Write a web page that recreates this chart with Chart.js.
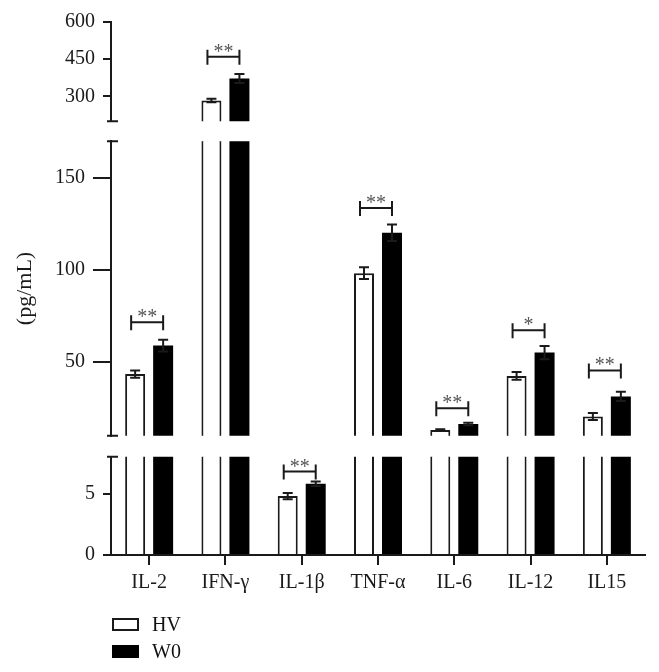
<!DOCTYPE html>
<html>
<head>
<meta charset="utf-8">
<script src="https://cdn.jsdelivr.net/npm/chart.js@4.4.1/dist/chart.umd.min.js"></script>
<style>
    body { margin: 0; background: #fff; }
    #wrap { position: relative; width: 659px; height: 672px; }
    #legend { position: absolute; left: 112px; top: 611px; font-family: 'Liberation Serif', serif; font-size: 20px; color: #111; }
    .item { display: flex; align-items: center; height: 27px; }
    .box { width: 23px; height: 9px; border: 2px solid #111; margin-right: 13px; }
</style>
</head>
<body>
<div id="wrap">
    <canvas id="chart" width="659" height="672"></canvas>
    <div id="legend"></div>
</div>
<script>
// categories and values
var categories = ['IL-2', 'IFN-γ', 'IL-1β', 'TNF-α', 'IL-6', 'IL-12', 'IL15'];
var hvMean = [43.5, 283, 4.8, 98.3, 13.1, 42.5, 20.5];
var hvErr = [2, 7, 0.25, 3.2, 0.5, 2.1, 1.9];
var w0Mean = [59, 372, 5.8, 120.3, 16.4, 55.2, 31.4];
var w0Err = [3.2, 18, 0.18, 4.5, 0.7, 3.6, 2.5];
var sigText = ['**', '**', '**', '**', '**', '*', '**'];
var sigLevel = [71.7, 460, 6.8, 133.7, 24.9, 67.3, 45.5];

// broken y axis: bottom, middle, top pieces
var segIds = ['yBot', 'yMid', 'yTop'];
var segMin = [0, 10, 200];
var segMax = [8, 170, 600];
var segTicks = [[0, 5], [50, 100, 150], [300, 450, 600]];

var FONT = "'Liberation Serif', 'Times New Roman', serif";
var INK = '#1a1a1a';

var datasets = [];
segIds.forEach(function (id) {
    datasets.push({
        label: 'HV', data: hvMean, yAxisID: id, stack: 'HV', clip: 0,
        backgroundColor: '#fff', borderColor: INK, borderWidth: 2
    });
    datasets.push({
        label: 'W0', data: w0Mean, yAxisID: id, stack: 'W0', clip: 0,
        backgroundColor: '#000', borderColor: '#000', borderWidth: 0
    });
});

function scaleFor(chart, v) {
    for (var s = 0; s < segIds.length; s++) {
        if (v >= segMin[s] && v <= segMax[s]) return chart.scales[segIds[s]];
    }
    return chart.scales[segIds[segIds.length - 1]];
}

function segScale(idx, weight, stackWeight, tickLen, title) {
    return {
        type: 'linear', axis: 'y', position: 'left', stack: 'y',
        weight: weight, stackWeight: stackWeight, stacked: false,
        min: segMin[idx], max: segMax[idx],
        afterBuildTicks: function (scale) {
            scale.ticks = segTicks[idx].map(function (v) { return { value: v }; });
        },
        afterFit: function (scale) { scale.width = 99; },
        grid: { display: true, drawOnChartArea: false, drawTicks: true, tickLength: tickLen, color: INK, lineWidth: 2 },
        border: { display: true, color: INK, width: 2 },
        ticks: { font: { family: FONT, size: 20 }, color: INK, padding: 8, autoSkip: false },
        title: title ? { display: true, text: title, font: { family: FONT, size: 22 }, color: INK, padding: 0 } : { display: false }
    };
}

function gapScale(weight, stackWeight) {
    return {
        type: 'linear', axis: 'y', position: 'left', stack: 'y',
        weight: weight, stackWeight: stackWeight, min: 0, max: 1,
        afterFit: function (scale) { scale.width = 99; },
        grid: { display: false }, border: { display: false }, ticks: { display: false }
    };
}

// error bars and significance brackets
var annotations = {
    id: 'annotations',
    afterDatasetsDraw: function (chart) {
        var ctx = chart.ctx;
        var hvMeta = chart.getDatasetMeta(0), w0Meta = chart.getDatasetMeta(1);
        ctx.save();
        ctx.strokeStyle = INK;
        ctx.lineWidth = 2;
        categories.forEach(function (c, i) {
            [[hvMeta, hvMean, hvErr], [w0Meta, w0Mean, w0Err]].forEach(function (g) {
                var x = g[0].data[i].x, m = g[1][i], e = g[2][i];
                var sc = scaleFor(chart, m);
                var y1 = sc.getPixelForValue(m + e), y2 = sc.getPixelForValue(m - e);
                ctx.beginPath();
                ctx.moveTo(x, y1); ctx.lineTo(x, y2);
                ctx.moveTo(x - 5, y1); ctx.lineTo(x + 5, y1);
                ctx.moveTo(x - 5, y2); ctx.lineTo(x + 5, y2);
                ctx.stroke();
            });
            var xa = hvMeta.data[i].x - 4, xb = w0Meta.data[i].x;
            var yb = scaleFor(chart, sigLevel[i]).getPixelForValue(sigLevel[i]);
            ctx.beginPath();
            ctx.moveTo(xa, yb); ctx.lineTo(xb, yb);
            ctx.moveTo(xa, yb - 7); ctx.lineTo(xa, yb + 8);
            ctx.moveTo(xb, yb - 7); ctx.lineTo(xb, yb + 8);
            ctx.stroke();
            ctx.fillStyle = '#555';
            ctx.font = '20px ' + FONT;
            ctx.textAlign = 'center';
            ctx.textBaseline = 'alphabetic';
            ctx.fillText(sigText[i], (xa + xb) / 2, yb + 1);
        });
        // little caps where the y axis is broken
        var ax = chart.scales.yMid.right;
        var ends = [chart.scales.yTop.bottom, chart.scales.yMid.top, chart.scales.yMid.bottom, chart.scales.yBot.top];
        ctx.beginPath();
        ends.forEach(function (y) { ctx.moveTo(ax - 4, y); ctx.lineTo(ax + 7, y); });
        ctx.stroke();
        ctx.restore();
    }
};

var chart = new Chart(document.getElementById('chart'), {
    type: 'bar',
    data: { labels: categories, datasets: datasets },
    options: {
        responsive: false,
        animation: false,
        layout: { padding: { top: 22, left: 12, right: 14, bottom: 71 } },
        datasets: { bar: { categoryPercentage: 0.734, barPercentage: 0.714 } },
        plugins: { legend: { display: false }, tooltip: { enabled: false } },
        scales: {
            x: {
                grid: { display: true, offset: false, drawOnChartArea: false, drawTicks: true, tickLength: 10, color: INK, lineWidth: 2 },
                border: { display: true, color: INK, width: 2 },
                ticks: { font: { family: FONT, size: 20 }, color: INK, padding: 6, maxRotation: 0 }
            },
            yTop: segScale(2, 5, 99, 8),
            gapTop: gapScale(4, 20),
            yMid: segScale(1, 3, 294, 18, '(pg/mL)'),
            gapBot: gapScale(2, 21),
            yBot: segScale(0, 1, 98, 8)
        }
    },
    plugins: [annotations]
});

// legend
var legend = document.getElementById('legend');
[datasets[0], datasets[1]].forEach(function (ds) {
    var item = document.createElement('div');
    item.className = 'item';
    var box = document.createElement('span');
    box.className = 'box';
    box.style.background = ds.backgroundColor;
    box.style.borderColor = ds.borderColor;
    var txt = document.createElement('span');
    txt.textContent = ds.label;
    item.appendChild(box);
    item.appendChild(txt);
    legend.appendChild(item);
});
</script>
</body>
</html>
